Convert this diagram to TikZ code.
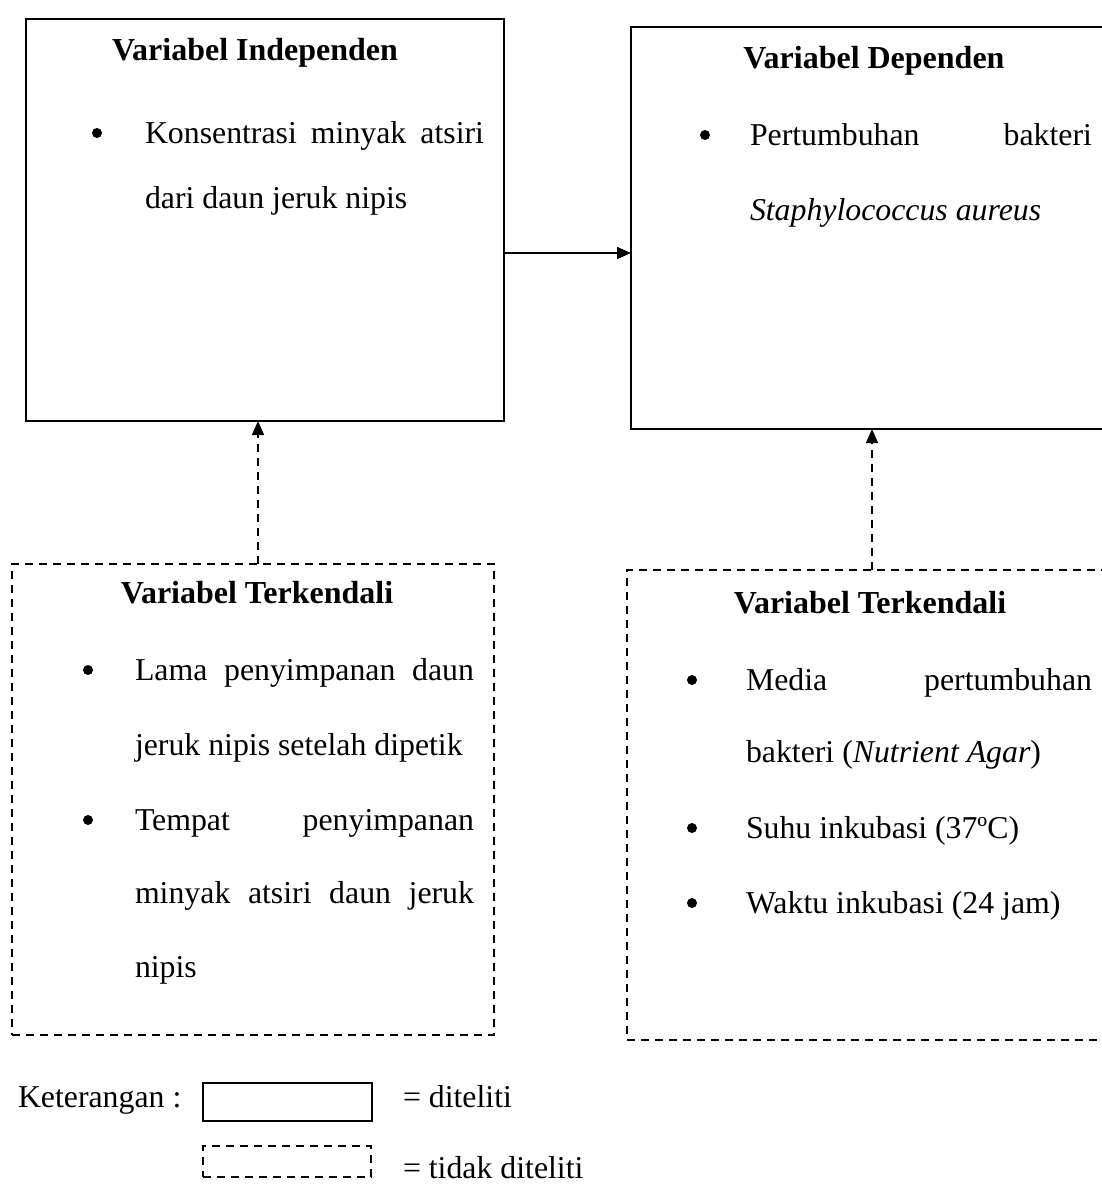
\documentclass[tikz,border=0pt]{standalone}
\usepackage{fontspec}
\setmainfont{Liberation Serif}
\usetikzlibrary{arrows.meta}
\begin{document}
\begin{tikzpicture}[x=1pt,y=-1pt,
  every node/.style={font=\fontsize{31.8}{38}\selectfont, inner sep=0pt, outer sep=0pt},
  solidbox/.style={draw, line width=1.5pt},
  dashbox/.style={draw, line width=1.5pt, dash pattern=on 8pt off 6pt},
  txt/.style={anchor=base west},
  ttl/.style={anchor=base, font=\fontsize{32}{38}\selectfont\bfseries},
  blt/.style={circle, fill, minimum size=10pt},
  arr/.style={line width=1.5pt, -{Triangle[length=14pt,width=12pt]}},
  darr/.style={arr, dash pattern=on 8pt off 6pt}]
\path[use as bounding box] (0,0) rectangle (1102,1186);
\clip (0,0) rectangle (1102,1186);
\fill[white] (0,0) rectangle (1102,1186);

% boxes
\node[solidbox, minimum width=478pt, minimum height=402pt] (b1) at (265,220) {};
\node[solidbox, minimum width=499pt, minimum height=402pt] (b2) at (880.5,228) {};
\node[dashbox, minimum width=482pt, minimum height=471pt] (b3) at (253,799.5) {};
\node[dashbox, minimum width=503pt, minimum height=470pt] (b4) at (878.5,805) {};

% connectors
\coordinate (h) at (0,253);
\coordinate (v1) at (258,0);
\coordinate (v2) at (872,0);
\draw[arr] (b1.east |- h) -- (b2.west |- h);
\draw[darr] (b3.north -| v1) -- (b1.south -| v1);
\draw[darr] (b4.north -| v2) -- (b2.south -| v2);

% box 1
\node[ttl] (t1) at (255,60) {Variabel Independen};
\node[blt] (p1) at (97,133) {};
\node[txt] (a1) at (145,143) {\makebox[339pt][s]{Konsentrasi minyak atsiri}};
\node[txt] (a2) at (145,208) {dari daun jeruk nipis};

% box 2
\node[ttl] (t2) at (874,68) {Variabel Dependen};
\node[blt] (p2) at (705,135) {};
\node[txt] (c1) at (750,145) {\makebox[342pt][s]{Pertumbuhan bakteri}};
\node[txt] (c2) at (750,220) {\itshape Staphylococcus aureus};

% box 3
\node[ttl] (t3) at (257,603) {Variabel Terkendali};
\node[blt] (p3) at (88,670) {};
\node[txt] (d1) at (135,680) {\makebox[339pt][s]{Lama penyimpanan daun}};
\node[txt] (d2) at (135,755) {jeruk nipis setelah dipetik};
\node[blt] (p4) at (88,820) {};
\node[txt] (d3) at (135,830) {\makebox[339pt][s]{Tempat penyimpanan}};
\node[txt] (d4) at (135,903) {\makebox[339pt][s]{minyak atsiri daun jeruk}};
\node[txt] (d5) at (135,977) {nipis};

% box 4
\node[ttl] (t4) at (870,613) {Variabel Terkendali};
\node[blt] (p5) at (692,680) {};
\node[txt] (e1) at (746,690) {\makebox[346pt][s]{Media pertumbuhan}};
\node[txt] (e2) at (746,762) {bakteri (\textit{Nutrient Agar})};
\node[blt] (p6) at (692,828) {};
\node[txt] (e3) at (746,838) {Suhu inkubasi (37ºC)};
\node[blt] (p7) at (692,903) {};
\node[txt] (e4) at (746,913) {Waktu inkubasi (24 jam)};

% legend
\node[txt] (k) at (18,1107) {Keterangan :};
\node[solidbox, minimum width=169pt, minimum height=38pt] (l1) at (287.5,1102) {};
\node[dashbox, minimum width=168pt, minimum height=31pt] (l2) at (287,1161.5) {};
\node[txt] (k1) at (403,1107) {= diteliti};
\node[txt] (k2) at (403,1178) {= tidak diteliti};
\end{tikzpicture}
\end{document}
